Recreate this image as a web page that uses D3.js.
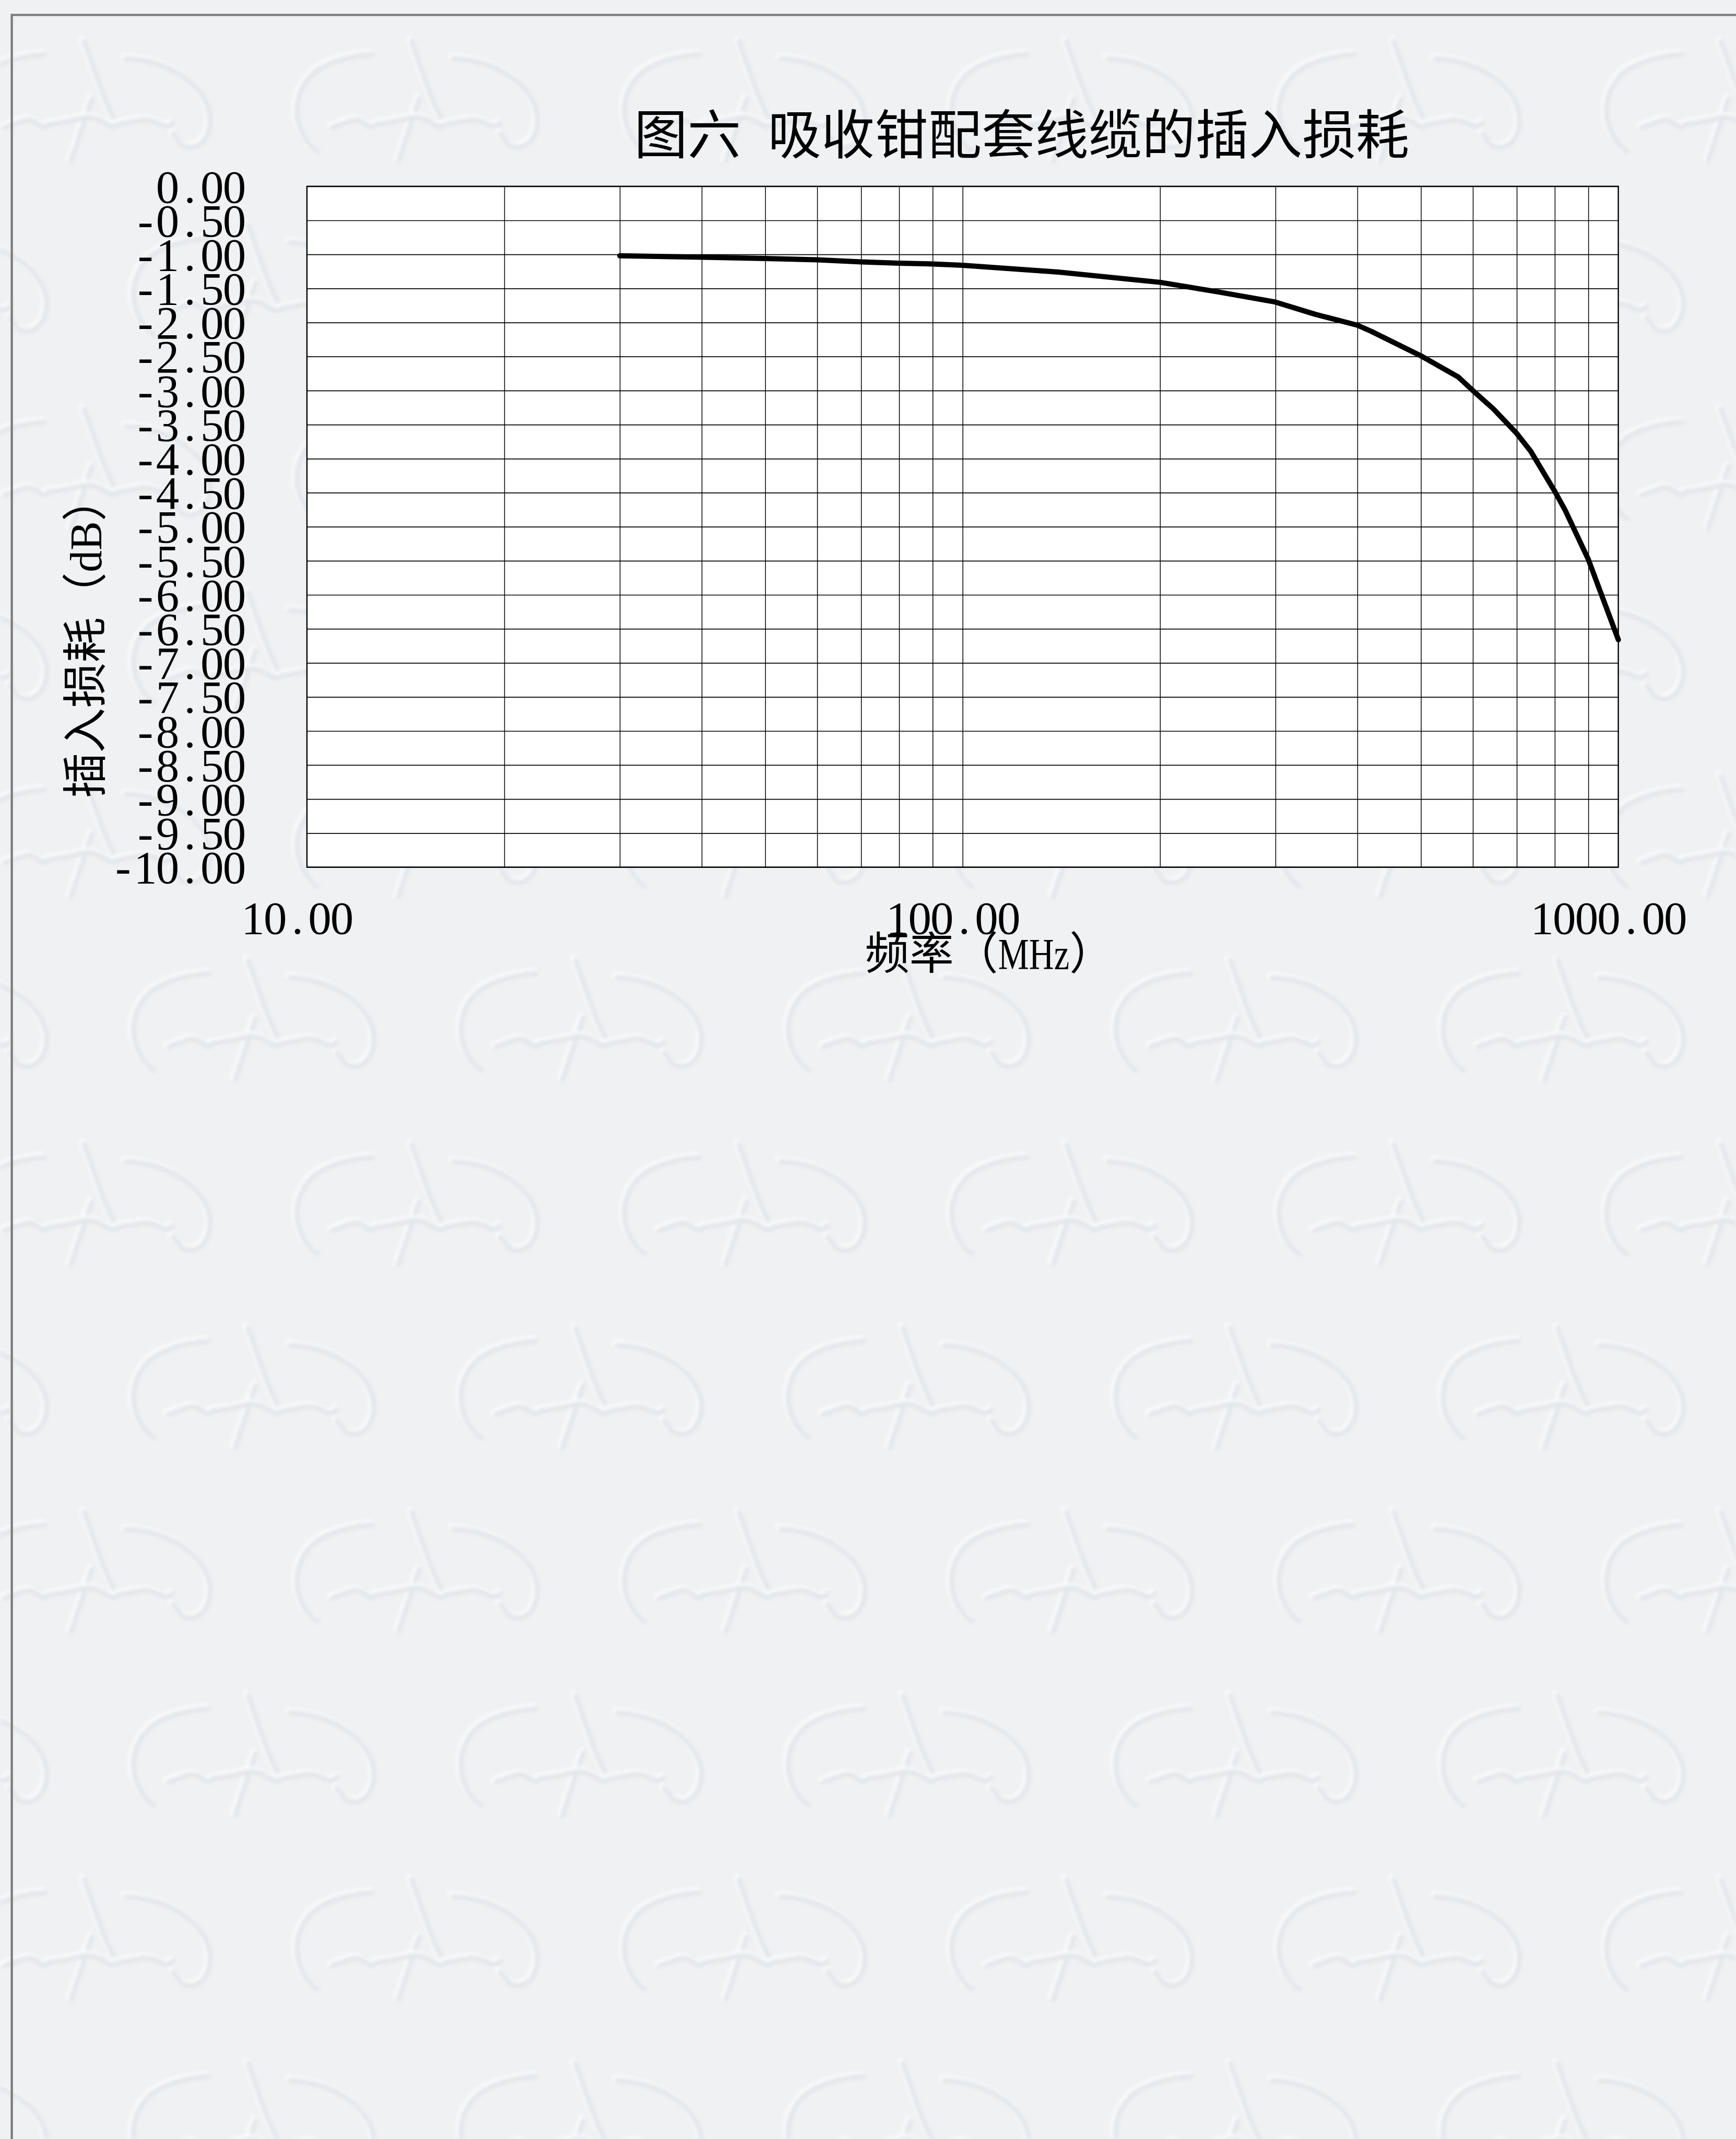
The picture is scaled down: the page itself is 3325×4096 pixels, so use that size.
<!DOCTYPE html>
<html>
<head>
<meta charset="utf-8">
<script src="https://cdn.jsdelivr.net/npm/d3@7"></script>
<style>
  html, body { margin: 0; padding: 0; background: #eff1f3; }
  svg { display: block; }
</style>
</head>
<body>
<svg id="chart" width="3325" height="4096"></svg>
<script>
// Insertion loss of the cable set supplied with the absorbing clamp, 30 MHz – 1 GHz
const freqMHz = [30, 40, 50, 60, 70, 80, 90, 100, 140, 200, 245, 300, 345, 400, 420,
                 500, 570, 600, 645, 700, 735, 800, 830, 900, 1000];
const lossDB  = [-1.02, -1.04, -1.06, -1.08, -1.11, -1.13, -1.14, -1.16, -1.26, -1.41,
                 -1.55, -1.70, -1.88, -2.04, -2.13, -2.49, -2.80, -3.00, -3.27, -3.63,
                 -3.89, -4.48, -4.76, -5.48, -6.66];

const xTickValues = [10, 100, 1000];
const xGridValues = [20, 30, 40, 50, 60, 70, 80, 90, 100, 200, 300, 400, 500, 600, 700, 800, 900];
const yTickValues = [0, -0.5, -1, -1.5, -2, -2.5, -3, -3.5, -4, -4.5, -5,
                     -5.5, -6, -6.5, -7, -7.5, -8, -8.5, -9, -9.5, -10];

const chartTitle = "图六 吸收钳配套线缆的插入损耗";
const xTitle = "频率（MHz）";
const yTitle = "插入损耗（dB）";

const W = 3325, H = 4096;
const plot = { left: 587.9, top: 356.8, width: 2511.7, height: 1303.7 };
const fmt = v => v.toFixed(2);

const CJK = '"Noto Sans CJK SC", "Noto Sans CJK JP", sans-serif';
const MIXED = '"Liberation Serif", "Noto Sans CJK SC", serif';
const DIGITS = '"Liberation Serif", "DejaVu Serif", serif';

// Lays a string out in fixed cells: full-width characters take one em,
// half-width characters half an em (runs of them are kept together unless perChar,
// and such runs can be widened by latinScale and fitted to their cell).
function cellText(textSel, str, o) {
  const em = o.em, align = o.align || "middle", x0 = o.x0 || 0;
  const latinScale = o.latinScale || 1;
  const isFull = ch => /[\u2E80-\u9FFF\u3000-\u303F\uFF00-\uFFEF]/.test(ch);
  const tokens = [];
  for (const ch of str) {
    const full = isFull(ch);
    const last = tokens[tokens.length - 1];
    if (!o.perChar && !full && last && !last.full) { last.s += ch; last.w += 0.5; }
    else tokens.push({ s: ch, w: full ? 1 : 0.5, full });
  }
  tokens.forEach(t => { if (!t.full && t.s.trim().length > 1) t.w *= latinScale; });
  const total = d3.sum(tokens, t => t.w) * em;
  let cx = x0 - (align === "end" ? total : align === "middle" ? total / 2 : 0);
  textSel.text(null).attr("text-anchor", "middle").attr("x", null).attr("dy", null).attr("y", null);
  tokens.forEach(t => {
    const span = textSel.append("tspan").attr("x", cx + t.w * em / 2).attr("y", o.y0 || 0).text(t.s);
    if (o.dy) span.attr("dy", o.dy);
    if (o.fit && !t.full && t.s.trim().length > 1) {
      span.attr("textLength", t.w * em).attr("lengthAdjust", "spacingAndGlyphs");
    }
    cx += t.w * em;
  });
}

const svg = d3.select("#chart");
const defs = svg.append("defs");

// Faint embossed logo tiled over the page
const tileW = 627, tileH = 704;
const pat = defs.append("pattern")
  .attr("id", "paper")
  .attr("patternUnits", "userSpaceOnUse")
  .attr("width", tileW).attr("height", tileH)
  .attr("x", 235).attr("y", 456);
pat.append("rect").attr("width", tileW).attr("height", tileH).attr("fill", "#eff1f3");
const logoPaths = [
  "M 60 185 C 10 150 5 70 60 30 C 95 8 135 2 165 0",
  "M 320 8 C 395 10 468 52 480 112 C 488 160 455 192 425 172 L 410 152",
  "M 240 -25 C 262 35 276 85 300 128",
  "M 255 85 L 215 205",
  "M 88 140 L 128 126 C 148 121 160 150 172 134 L 205 129 L 242 121 C 272 116 290 150 305 134 L 350 126 C 380 121 395 150 410 131"
];
[[0, 0], [313, 352], [313 - tileW, 352], [0, tileH], [313, 352 - tileH]].forEach(([dx, dy]) => {
  const lg = pat.append("g").attr("transform", `translate(${dx},${dy})`).attr("fill", "none")
    .attr("stroke-linecap", "round").attr("stroke-linejoin", "round");
  logoPaths.forEach(p => {
    lg.append("path").attr("d", p).attr("stroke", "#fafbfc").attr("stroke-width", 12)
      .attr("transform", "translate(-4,-4)");
    lg.append("path").attr("d", p).attr("stroke", "#e2e6ea").attr("stroke-width", 9);
  });
});
const soft = defs.append("filter").attr("id", "soft")
  .attr("x", 0).attr("y", 0).attr("width", 1).attr("height", 1);
soft.append("feGaussianBlur").attr("stdDeviation", 3);

svg.append("rect").attr("width", W).attr("height", H).attr("fill", "#eff1f3");
svg.append("rect").attr("width", W).attr("height", H).attr("fill", "url(#paper)")
  .attr("filter", "url(#soft)");

// Page frame (top and left edges)
svg.append("path")
  .attr("d", `M ${W + 10} 28.6 L 22.6 28.6 L 22.6 ${H + 10}`)
  .attr("fill", "none").attr("stroke", "#7d7d7d").attr("stroke-width", 4.4);

// Chart title
const title = svg.append("text")
  .attr("font-family", CJK).attr("font-size", 102.4).attr("fill", "#000");
cellText(title, chartTitle, { em: 102.4, align: "middle", x0: 1956.8, y0: 295 });

const g = svg.append("g").attr("transform", `translate(${plot.left},${plot.top})`);

const x = d3.scaleLog().domain([10, 1000]).range([0, plot.width]);
const y = d3.scaleLinear().domain([0, -10]).range([0, plot.height]);

g.append("rect").attr("width", plot.width).attr("height", plot.height).attr("fill", "#fff");

// Grid
const xGrid = g.append("g")
  .call(d3.axisBottom(x).tickValues(xGridValues).tickSize(plot.height).tickFormat(""));
xGrid.select(".domain").remove();
xGrid.selectAll("line").attr("stroke", "#000").attr("stroke-width", 1.5);

const yGrid = g.append("g")
  .call(d3.axisRight(y).tickValues(yTickValues).tickSize(plot.width).tickFormat(""));
yGrid.select(".domain").remove();
yGrid.selectAll("line").attr("stroke", "#000").attr("stroke-width", 1.7);

// Plot frame
g.append("rect").attr("width", plot.width).attr("height", plot.height)
  .attr("fill", "none").attr("stroke", "#000").attr("stroke-width", 2.4);

// Y axis labels
const yAxis = g.append("g")
  .call(d3.axisLeft(y).tickValues(yTickValues).tickSize(0).tickFormat(fmt));
yAxis.select(".domain").remove();
yAxis.attr("font-family", DIGITS).attr("font-size", 89).attr("color", "#000");
yAxis.selectAll(".tick text").each(function (d) {
  cellText(d3.select(this), fmt(d), { em: 85.2, align: "end", x0: -117.7, y0: 0, dy: "0.34em", perChar: true });
});

// X axis labels
const xAxis = g.append("g").attr("transform", `translate(0,${plot.height})`)
  .call(d3.axisBottom(x).tickValues(xTickValues).tickSize(0).tickFormat(fmt));
xAxis.select(".domain").remove();
xAxis.attr("font-family", DIGITS).attr("font-size", 89).attr("color", "#000");
xAxis.selectAll(".tick text").each(function (d) {
  cellText(d3.select(this), fmt(d), { em: 85.2, align: "middle", x0: -18.6, y0: 127, perChar: true });
});

// Axis titles
const xt = svg.append("text").attr("font-family", MIXED).attr("font-size", 85).attr("fill", "#000");
cellText(xt, xTitle, { em: 85, align: "middle", x0: 1895, y0: 1856, fit: true, latinScale: 1.07 });

const yt = svg.append("text").attr("font-family", MIXED).attr("font-size", 86.5).attr("fill", "#000")
  .attr("transform", "translate(162.3,1220) rotate(-90)");
cellText(yt, yTitle, { em: 86.5, align: "middle", x0: 0, y0: 0, dy: "0.37em", fit: true, latinScale: 1.13 });

// Loss curve
const series = freqMHz.map((f, i) => ({ f, v: lossDB[i] }));
g.append("path")
  .datum(series)
  .attr("fill", "none")
  .attr("stroke", "#000")
  .attr("stroke-width", 10)
  .attr("stroke-linejoin", "round")
  .attr("stroke-linecap", "round")
  .attr("d", d3.line().x(d => x(d.f)).y(d => y(d.v)));
</script>
</body>
</html>
